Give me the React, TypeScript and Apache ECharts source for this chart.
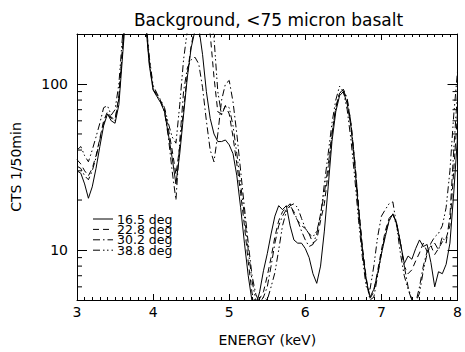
import React, { useEffect, useRef } from "react";
import * as echarts from "echarts";

const TITLE = "Background, <75 micron basalt";
const X_NAME = "ENERGY (keV)";
const Y_NAME = "CTS 1/50min";
const SERIES_NAMES = ["16.5 deg", "22.8 deg", "30.2 deg", "38.8 deg"];
const Y_MINOR_TICKS = [6, 7, 8, 9, 20, 30, 40, 50, 60, 70, 80, 90];

const ENERGY = [
  3.0, 3.05, 3.1, 3.15, 3.2, 3.25, 3.3, 3.35, 3.4, 3.45,
  3.5, 3.55, 3.6, 3.65, 3.7, 3.75, 3.8, 3.85, 3.9, 3.95,
  4.0, 4.05, 4.1, 4.15, 4.2, 4.25, 4.3, 4.35, 4.4, 4.45,
  4.5, 4.55, 4.6, 4.65, 4.7, 4.75, 4.8, 4.85, 4.9, 4.95,
  5.0, 5.05, 5.1, 5.15, 5.2, 5.25, 5.3, 5.35, 5.4, 5.45,
  5.5, 5.55, 5.6, 5.65, 5.7, 5.75, 5.8, 5.85, 5.9, 5.95,
  6.0, 6.05, 6.1, 6.15, 6.2, 6.25, 6.3, 6.35, 6.4, 6.45,
  6.5, 6.55, 6.6, 6.65, 6.7, 6.75, 6.8, 6.85, 6.9, 6.95,
  7.0, 7.05, 7.1, 7.15, 7.2, 7.25, 7.3, 7.35, 7.4, 7.45,
  7.5, 7.55, 7.6, 7.65, 7.7, 7.75, 7.8, 7.85, 7.9, 7.95,
  8.0,
];

const CTS_165 = [
  30, 29, 25, 20.5, 24, 31, 42, 56, 66, 60,
  58, 75, 150, 300, 500, 500, 450, 350, 240, 130,
  92, 84, 77, 68, 50, 36, 25, 38, 65, 110,
  165, 210, 220, 150, 90, 62, 50, 45, 45, 46,
  43, 38, 28, 18, 11, 7, 4.9, 4.6, 5.6, 7.5,
  9.5, 12.5, 16, 18.5, 17.5, 18.5, 14, 11.5, 11, 11,
  10.2, 9, 7.2, 6.3, 8, 13, 24, 45, 68, 85,
  90, 76, 55, 32, 17, 10, 6.6, 5.2, 5.8, 7.2,
  9.5, 12, 15, 16.5, 14.5, 11, 8.3, 9.2, 8.8, 10.2,
  11.5, 10.5, 10.8, 8.4, 6, 7.4, 7.2, 8.2, 11, 22,
  48,
];

const CTS_228 = [
  35, 33, 30, 28, 31, 37, 47, 60, 68, 63,
  61, 85, 170, 320, 500, 500, 450, 360, 250, 140,
  95, 86, 79, 70, 54, 40, 28.5, 42, 70, 115,
  170, 220, 260, 260, 240, 200, 110, 68, 66, 74,
  66, 48, 33, 22, 14, 8.5, 5.5, 4.7, 5.1, 5.6,
  7, 9, 12, 15, 17, 18, 19, 16.5, 15, 14,
  13.5, 12.5, 11, 11.5, 15, 19, 29, 50, 72, 88,
  92, 80, 58, 34, 18.5, 10.5, 6.8, 5.1, 5.6, 7.5,
  10, 13, 15.5, 16.5, 14.5, 11, 8, 7.2, 7.6, 8.6,
  9.6, 11, 9.8, 10.6, 9.4, 10.2, 11.2, 11.8, 14, 30,
  68,
];

const CTS_302 = [
  32, 31, 28, 26.5, 30, 36, 46, 58, 66, 62,
  60, 82, 165, 310, 500, 500, 450, 350, 245, 135,
  93, 85, 78, 68, 48, 30, 20, 45, 90, 125,
  140, 145, 132, 95, 60, 40, 34, 50, 80, 100,
  105, 78, 50, 30, 18, 11, 7, 5.4, 4.8, 5.2,
  6, 8, 11, 14, 16, 17.5, 18.5, 17, 15, 13,
  11.5, 10.5, 10.8, 12.5, 16.5, 22, 32, 50, 72, 88,
  93, 82, 58, 34, 18, 10, 6.5, 5, 5.2, 7,
  9.5, 12.5, 15, 16.5, 14, 11, 8, 6, 5, 4.8,
  6, 8, 9.8, 10.4, 11, 10, 12, 11, 16, 40,
  90,
];

const CTS_388 = [
  40, 42, 37, 34, 40, 48, 58, 72, 74, 65,
  70, 100, 200, 380, 500, 500, 450, 360, 260, 145,
  98, 88, 80, 72, 58, 48, 44, 75, 140, 210,
  280, 320, 330, 320, 300, 260, 190, 90, 65, 74,
  72, 56, 38, 25, 16, 10, 6.5, 5, 4.9, 5.2,
  5, 6, 7.3, 10, 14, 17, 18.5, 19, 18, 15.5,
  13.5, 12.5, 12, 13, 16, 25, 38, 58, 80, 97,
  90, 70, 46, 27, 15, 9, 6, 5.8, 8, 12,
  16, 17.5, 19, 19.5, 14, 9.5, 7, 5.8, 5, 4.8,
  5.5, 7.5, 9.5, 11, 12, 12.6, 14, 18, 30, 65,
  120,
];

const SERIES_VALUES = [CTS_165, CTS_228, CTS_302, CTS_388];
const DASHES: (string | number[])[] = ["solid", [6, 4], [7, 3, 1.5, 3], [7, 3, 1.5, 2.5, 1.5, 3]];

const FONT = "DejaVu Sans";

export default function App() {
  const ref = useRef<HTMLDivElement>(null);

  useEffect(() => {
    if (!ref.current) return;
    const chart = echarts.init(ref.current, null, { renderer: "svg" });

    const lineSeries = SERIES_VALUES.map((vals, i) => ({
      name: SERIES_NAMES[i],
      type: "line",
      xAxisIndex: 0,
      yAxisIndex: 0,
      data: ENERGY.map((e, k) => [e, vals[k]]),
      showSymbol: false,
      symbol: "none",
      clip: true,
      silent: true,
      lineStyle: { color: "#000", width: 1, type: DASHES[i] },
    }));

    const legendX0 = 93;
    const legendX1 = 113;
    const legendY0 = 219;
    const legendDy = 10.4;
    const legendGraphics: any[] = [];
    SERIES_NAMES.forEach((name, i) => {
      const y = legendY0 + i * legendDy;
      const d = DASHES[i];
      legendGraphics.push({
        type: "line",
        shape: { x1: legendX0, y1: y, x2: legendX1, y2: y },
        style: {
          stroke: "#000",
          lineWidth: 1,
          lineDash: Array.isArray(d) ? d : null,
        },
        silent: true,
      });
      legendGraphics.push({
        type: "text",
        x: legendX1 + 4,
        y: y,
        style: {
          text: name,
          fill: "#000",
          fontFamily: FONT,
          fontSize: 12.5,
          lineHeight: 10,
          textAlign: "left",
          textVerticalAlign: "middle",
        },
        silent: true,
      });
    });

    const logLabel = (v: number) => {
      const l = Math.log10(v);
      if (Math.abs(l - Math.round(l)) < 1e-6 && v > 6 && v < 150) {
        return String(Math.round(v));
      }
      return "";
    };

    const option: any = {
      animation: false,
      backgroundColor: "#fff",
      textStyle: { fontFamily: FONT, color: "#000" },
      grid: { left: 77, right: 5, top: 34, bottom: 48, containLabel: false },
      graphic: [
        {
          type: "text",
          x: 268.5,
          y: 20,
          style: {
            text: TITLE,
            fill: "#000",
            font: `17px "${FONT}"`,
            textAlign: "center",
            textVerticalAlign: "middle",
          },
          silent: true,
        },
        ...legendGraphics,
      ],
      xAxis: [
        {
          type: "value",
          position: "bottom",
          min: 3,
          max: 8,
          interval: 1,
          name: X_NAME,
          nameLocation: "middle",
          nameGap: 33,
          nameTextStyle: { fontFamily: FONT, fontSize: 14, color: "#000" },
          axisLine: { show: true, onZero: false, lineStyle: { color: "#000", width: 1 } },
          axisTick: { show: true, inside: true, length: 6, lineStyle: { color: "#000" } },
          minorTick: { show: true, splitNumber: 10, length: 3, lineStyle: { color: "#000" } },
          axisLabel: { show: true, margin: 5, fontFamily: FONT, fontSize: 14, color: "#000" },
          splitLine: { show: false },
          minorSplitLine: { show: false },
        },
        {
          type: "value",
          position: "top",
          min: 3,
          max: 8,
          interval: 1,
          axisLine: { show: true, onZero: false, lineStyle: { color: "#000", width: 1 } },
          axisTick: { show: true, inside: true, length: 6, lineStyle: { color: "#000" } },
          minorTick: { show: true, splitNumber: 10, length: 3, lineStyle: { color: "#000" } },
          axisLabel: { show: false },
          splitLine: { show: false },
        },
      ],
      yAxis: [
        {
          type: "log",
          logBase: 10,
          position: "left",
          min: 5,
          max: 200,
          name: Y_NAME,
          nameLocation: "middle",
          nameGap: 54,
          nameRotate: 90,
          nameTextStyle: { fontFamily: FONT, fontSize: 14, color: "#000" },
          axisLine: { show: true, onZero: false, lineStyle: { color: "#000", width: 1 } },
          axisTick: { show: true, inside: true, length: 10, lineStyle: { color: "#000" } },
          axisLabel: {
            show: true,
            margin: 9,
            fontFamily: FONT,
            fontSize: 14,
            color: "#000",
            formatter: logLabel,
            showMinLabel: false,
            showMaxLabel: false,
          },
          splitLine: { show: false },
        },
        {
          type: "log",
          logBase: 10,
          position: "right",
          min: 5,
          max: 200,
          axisLine: { show: true, onZero: false, lineStyle: { color: "#000", width: 1 } },
          axisTick: { show: true, inside: true, length: 10, lineStyle: { color: "#000" } },
          axisLabel: { show: false },
          splitLine: { show: false },
        },
      ],
      series: [
        ...lineSeries,
        {
          type: "custom",
          xAxisIndex: 0,
          yAxisIndex: 0,
          silent: true,
          clip: false,
          data: Y_MINOR_TICKS.map((v) => [3, v]),
          encode: { x: 0, y: 1 },
          renderItem: (params: any, api: any) => {
            const v = api.value(1);
            const pL = api.coord([3, v]);
            const pR = api.coord([8, v]);
            return {
              type: "group",
              children: [
                {
                  type: "line",
                  shape: { x1: pL[0], y1: pL[1], x2: pL[0] + 5, y2: pL[1] },
                  style: { stroke: "#000", lineWidth: 1 },
                },
                {
                  type: "line",
                  shape: { x1: pR[0] - 5, y1: pR[1], x2: pR[0], y2: pR[1] },
                  style: { stroke: "#000", lineWidth: 1 },
                },
              ],
            };
          },
        },
      ],
    };

    chart.setOption(option);
    return () => {
      chart.dispose();
    };
  }, []);

  return <div ref={ref} style={{ width: 465, height: 352, position: "absolute", left: 0, top: 0 }} />;
}
